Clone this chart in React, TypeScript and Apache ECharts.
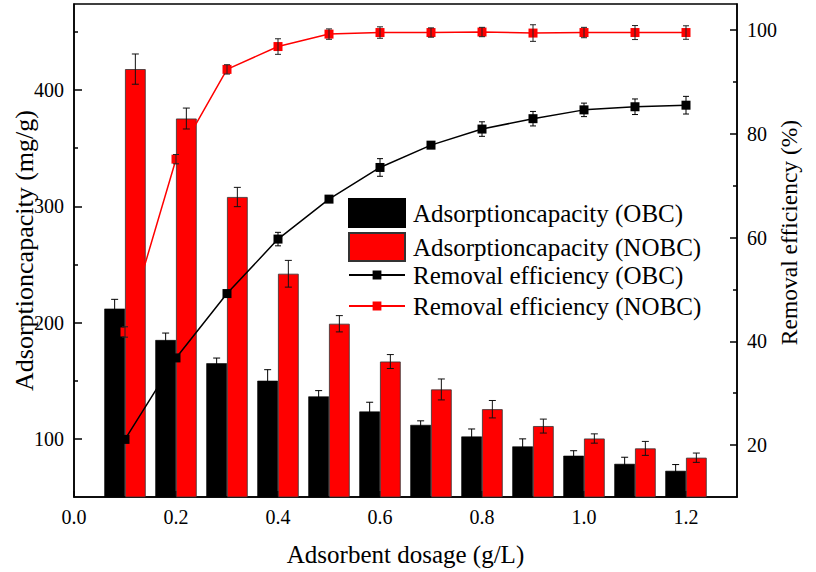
import { useEffect, useRef } from "react";
import * as echarts from "echarts";

const dosage = [0.1, 0.2, 0.3, 0.4, 0.5, 0.6, 0.7, 0.8, 0.9, 1.0, 1.1, 1.2];
const capOBC = [212, 185, 165, 150, 136.5, 123.5, 112, 102, 93.5, 85.5, 78.5, 72.5];
const capOBCErr = [8, 6, 4.5, 9.5, 5, 8, 3.5, 6.5, 6.5, 4.3, 5.7, 5.4];
const capNOBC = [418, 375.5, 308, 242, 199, 166.5, 142.5, 125.5, 111, 100.3, 91.8, 83.8];
const capNOBCErr = [13, 9, 8.3, 11.5, 7, 6, 9, 7.5, 6, 4, 6, 4];
const remOBC = [21.1, 36.8, 49.2, 59.7, 67.4, 73.5, 77.8, 80.9, 82.9, 84.6, 85.2, 85.5];
const remOBCErr = [0.5, 0.5, 0.5, 1.3, 0.5, 1.7, 0.5, 1.4, 1.4, 1.3, 1.5, 1.7];
const remNOBC = [41.8, 75.1, 92.4, 96.8, 99.2, 99.5, 99.5, 99.6, 99.4, 99.5, 99.5, 99.5];
const remNOBCErr = [1, 0.9, 0.9, 1.5, 1, 1.1, 0.9, 0.9, 1.6, 1, 1.35, 1.3];

const xTicks = [0, 0.2, 0.4, 0.6, 0.8, 1.0, 1.2];
const leftTicks = [100, 200, 300, 400];
const leftMinor = [150, 250, 350, 450];
const rightTicks = [20, 40, 60, 80, 100];
const rightMinor = [30, 50, 70, 90];

const names = {
  capOBC: "Adsorptioncapacity (OBC)",
  capNOBC: "Adsorptioncapacity (NOBC)",
  remOBC: "Removal efficiency (OBC)",
  remNOBC: "Removal efficiency (NOBC)",
};

const FONT = "Liberation Serif";
const BAR_W = 20.7;

function errRender(dx: number, cap: number, color: string) {
  return (params: any, api: any) => {
    const x = api.value(0);
    const y = api.value(1);
    const e = api.value(2);
    const top = api.coord([x, y + e]);
    const bot = api.coord([x, y - e]);
    const cx = top[0] + dx;
    const st = { stroke: color, lineWidth: 1 };
    return {
      type: "group",
      children: [
        { type: "line", shape: { x1: cx, y1: top[1], x2: cx, y2: bot[1] }, style: st },
        { type: "line", shape: { x1: cx - cap, y1: top[1], x2: cx + cap, y2: top[1] }, style: st },
        { type: "line", shape: { x1: cx - cap, y1: bot[1], x2: cx + cap, y2: bot[1] }, style: st },
      ],
    };
  };
}

const zip = (ys: number[]) => dosage.map((x, i) => [x, ys[i]]);
const zip3 = (ys: number[], es: number[]) => dosage.map((x, i) => [x, ys[i], es[i]]);

export default function App() {
  const ref = useRef<HTMLDivElement>(null);
  useEffect(() => {
    if (!ref.current) return;
    const chart = echarts.init(ref.current, undefined, { renderer: "svg" });
    const axisLine = { show: true, lineStyle: { color: "#000", width: 1.5 } };
    const labelStyle = { color: "#000", fontSize: 20, fontFamily: FONT };
    const nameStyle = { color: "#000", fontSize: 25, fontFamily: FONT };
    const legendText = { color: "#000", fontSize: 25, fontFamily: FONT, lineHeight: 28, padding: [0, 0, 0, 3] };
    chart.setOption({
      animation: false,
      backgroundColor: "#fff",
      textStyle: { fontFamily: FONT },
      grid: {
        left: 74,
        right: 79,
        top: 4,
        bottom: 75,
        containLabel: false,
        outerBoundsMode: "none",
        show: true,
        borderColor: "#000",
        borderWidth: 1.5,
        backgroundColor: "transparent",
      },
      legend: [
        {
          data: [
            { name: names.capOBC, icon: "rect" },
            { name: names.capNOBC, icon: "rect" },
          ],
          orient: "vertical",
          left: 348,
          top: 198,
          padding: 0,
          itemWidth: 56,
          itemHeight: 28,
          itemGap: 4,
          selectedMode: false,
          textStyle: legendText,
        },
        {
          data: [names.remOBC, names.remNOBC],
          orient: "vertical",
          left: 348,
          top: 261,
          padding: 0,
          itemWidth: 56,
          itemHeight: 11,
          itemGap: 3,
          selectedMode: false,
          textStyle: legendText,
        },
      ],
      xAxis: {
        type: "value",
        min: 0,
        max: 1.3,
        name: "Adsorbent dosage (g/L)",
        nameLocation: "middle",
        nameGap: 45,
        nameMoveOverlap: false,
        nameTextStyle: nameStyle,
        axisLine,
        axisTick: { show: true, inside: true, length: 6, customValues: xTicks, lineStyle: { color: "#000", width: 1.5 } },
        axisLabel: { ...labelStyle, margin: 10, customValues: xTicks, formatter: (v: number) => v.toFixed(1) },
        splitLine: { show: false },
      },
      yAxis: [
        {
          type: "value",
          position: "left",
          min: 50,
          max: 474,
          name: "Adsorptioncapacity (mg/g)",
          nameLocation: "middle",
          nameGap: 37,
          nameRotate: 90,
          nameMoveOverlap: false,
          nameTextStyle: { ...nameStyle, fontSize: 26 },
          axisLine,
          axisTick: { show: true, inside: true, length: 8, customValues: leftTicks, lineStyle: { color: "#000", width: 1.5 } },
          axisLabel: { ...labelStyle, margin: 10, customValues: leftTicks },
          splitLine: { show: false },
        },
        {
          type: "value",
          position: "right",
          min: 10,
          max: 105,
          name: "Removal efficiency (%)",
          nameLocation: "middle",
          nameGap: 40,
          nameRotate: 90,
          nameMoveOverlap: false,
          nameTextStyle: { ...nameStyle, fontSize: 23.5, padding: [0, 0, 0, 36] },
          axisLine,
          axisTick: { show: true, inside: true, length: 7, customValues: rightTicks, lineStyle: { color: "#000", width: 1.5 } },
          axisLabel: { ...labelStyle, margin: 10, customValues: rightTicks },
          splitLine: { show: false },
        },
        {
          type: "value",
          position: "left",
          min: 50,
          max: 474,
          axisLine: { show: false },
          axisTick: { show: true, inside: true, length: 4, customValues: leftMinor, lineStyle: { color: "#000", width: 1.5 } },
          axisLabel: { show: false },
          splitLine: { show: false },
        },
        {
          type: "value",
          position: "right",
          min: 10,
          max: 105,
          axisLine: { show: false },
          axisTick: { show: true, inside: true, length: 4, customValues: rightMinor, lineStyle: { color: "#000", width: 1.5 } },
          axisLabel: { show: false },
          splitLine: { show: false },
        },
      ],
      series: [
        {
          name: names.capOBC,
          type: "bar",
          yAxisIndex: 0,
          barWidth: BAR_W,
          barGap: "0%",
          itemStyle: { color: "#000", borderColor: "#000", borderWidth: 0.6 },
          data: zip(capOBC),
          z: 2,
        },
        {
          name: names.capNOBC,
          type: "bar",
          yAxisIndex: 0,
          barWidth: BAR_W,
          barGap: "0%",
          itemStyle: { color: "#ff0000", borderColor: "#333", borderWidth: 0.8 },
          data: zip(capNOBC),
          z: 2,
        },
        {
          name: "errCapOBC",
          type: "custom",
          yAxisIndex: 0,
          renderItem: errRender(-BAR_W / 2, 3.5, "#000"),
          data: zip3(capOBC, capOBCErr),
          encode: { x: 0, y: 1 },
          z: 3,
        },
        {
          name: "errCapNOBC",
          type: "custom",
          yAxisIndex: 0,
          renderItem: errRender(BAR_W / 2, 3.5, "#111"),
          data: zip3(capNOBC, capNOBCErr),
          encode: { x: 0, y: 1 },
          z: 3,
        },
        {
          name: names.remOBC,
          type: "line",
          yAxisIndex: 1,
          symbol: "rect",
          symbolSize: 9,
          itemStyle: { color: "#000" },
          lineStyle: { color: "#000", width: 1.5 },
          data: zip(remOBC),
          z: 4,
        },
        {
          name: names.remNOBC,
          type: "line",
          yAxisIndex: 1,
          symbol: "rect",
          symbolSize: 9,
          itemStyle: { color: "#ff0000" },
          lineStyle: { color: "#ff0000", width: 1.5 },
          data: zip(remNOBC),
          z: 4,
        },
        {
          name: "errRemOBC",
          type: "custom",
          yAxisIndex: 1,
          renderItem: errRender(0, 3, "#000"),
          data: zip3(remOBC, remOBCErr),
          encode: { x: 0, y: 1 },
          z: 5,
        },
        {
          name: "errRemNOBC",
          type: "custom",
          yAxisIndex: 1,
          renderItem: errRender(0, 3, "#222"),
          data: zip3(remNOBC, remNOBCErr),
          encode: { x: 0, y: 1 },
          z: 5,
        },
      ],
    });
    return () => chart.dispose();
  }, []);
  return (
    <div
      ref={ref}
      style={{ position: "absolute", left: 0, top: 0, width: 816, height: 572 }}
    />
  );
}
